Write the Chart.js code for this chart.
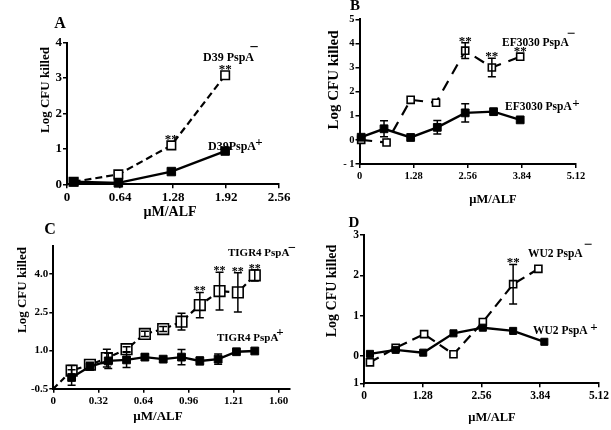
<!DOCTYPE html>
<html>
<head>
<meta charset="utf-8">
<script src="https://cdn.jsdelivr.net/npm/chart.js@4.4.0/dist/chart.umd.min.js"></script>
<style>
  body { margin: 0; background: #fff; }
  canvas { position: absolute; left: 0; top: 0; }
</style>
</head>
<body>
<canvas id="panelA" width="611" height="430"></canvas>
<canvas id="panelB" width="611" height="430"></canvas>
<canvas id="panelC" width="611" height="430"></canvas>
<canvas id="panelD" width="611" height="430"></canvas>
<script>
// ---- data (µM/ALF vs Log CFU killed) ----
// panel A: D39
const aTicksX = [0, 0.64, 1.28, 1.92, 2.56];
const aLabelsX = ['0', '0.64', '1.28', '1.92', '2.56'];
const aTicksY = [0, 1, 2, 3, 4];
const aLabelsY = ['0', '1', '2', '3', '4'];
const aNegX = [0.08, 0.62, 1.26, 1.91];
const aNegY = [0.07, 0.28, 1.1, 3.08];
const aNegStars = [2, 3];
const aPosX = [0.08, 0.62, 1.26, 1.91];
const aPosY = [0.07, 0.04, 0.36, 0.94];

// panel B: EF3030
const bTicksX = [0, 1.28, 2.56, 3.84, 5.12];
const bLabelsX = ['0', '1.28', '2.56', '3.84', '5.12'];
const bTicksY = [-1, 0, 1, 2, 3, 4, 5];
const bLabelsY = ['- 1', '0', '1', '2', '3', '4', '5'];
const bNegX = [0.04, 0.64, 1.21, 1.81, 2.5, 3.13, 3.8];
const bNegY = [0, -0.11, 1.66, 1.54, 3.7, 3.0, 3.45];
const bNegErr = [0, 0, 0, 0, 0.33, 0.38, 0];
const bNegStars = [4, 5, 6];
const bPosX = [0.04, 0.58, 1.21, 1.84, 2.5, 3.17, 3.8];
const bPosY = [0.11, 0.46, 0.1, 0.52, 1.12, 1.17, 0.83];
const bPosErr = [0, 0.33, 0, 0.28, 0.38, 0, 0];

// panel C: TIGR4
const cTicksX = [0, 0.32, 0.64, 0.96, 1.28, 1.6];
const cLabelsX = ['0', '0.32', '0.64', '0.96', '1.21', '1.60'];
const cTicksY = [-0.5, 1.0, 2.5, 4.0];
const cLabelsY = ['-0.5', '1.0', '2.5', '4.0'];
const cNegX = [0, 0.13, 0.26, 0.38, 0.52, 0.65, 0.78, 0.91, 1.04, 1.18, 1.31, 1.43];
const cNegY = [-0.5, 0.21, 0.44, 0.7, 1.05, 1.65, 1.84, 2.13, 2.78, 3.33, 3.28, 3.95];
const cNegErr = [0, 0.2, 0.1, 0.35, 0.1, 0.1, 0.1, 0.33, 0.5, 0.74, 0.77, 0.22];
const cNegStars = [8, 9, 10, 11];
const cPosX = [0.13, 0.26, 0.39, 0.52, 0.65, 0.78, 0.91, 1.04, 1.17, 1.3, 1.43];
const cPosY = [-0.06, 0.37, 0.59, 0.63, 0.74, 0.66, 0.74, 0.59, 0.66, 0.95, 0.98];
const cPosErr = [0.3, 0.1, 0.3, 0.3, 0.12, 0.05, 0.3, 0.15, 0.2, 0, 0];

// panel D: WU2
const dTicksX = [0, 1.28, 2.56, 3.84, 5.12];
const dLabelsX = ['0', '1.28', '2.56', '3.84', '5.12'];
const dTicksY = [-0.68, 0, 1, 2, 3];
const dLabelsY = ['1', '0', '1', '2', '3'];
const dNegX = [0.13, 0.69, 1.31, 1.95, 2.59, 3.25, 3.8];
const dNegY = [-0.16, 0.2, 0.54, 0.04, 0.84, 1.78, 2.16];
const dNegErr = [0, 0, 0, 0, 0, 0.49, 0];
const dNegStars = [5];
const dPosX = [0.13, 0.69, 1.29, 1.95, 2.59, 3.25, 3.93];
const dPosY = [0.05, 0.15, 0.08, 0.56, 0.7, 0.62, 0.35];

const serif = "'Liberation Serif', 'Times New Roman', serif";

// error bars + significance stars
const errorBars = {
    id: 'errorBars',
    afterDatasetsDraw(chart) {
        const ctx = chart.ctx, xs = chart.scales.x, ys = chart.scales.y;
        ctx.save();
        ctx.strokeStyle = '#000';
        ctx.fillStyle = '#000';
        ctx.lineWidth = 1.5;
        chart.data.datasets.forEach(ds => {
            const errs = ds.errors || [], stars = ds.stars || [];
            ds.data.forEach((p, i) => {
                const px = xs.getPixelForValue(p.x), py = ys.getPixelForValue(p.y);
                const r = Array.isArray(ds.pointRadius) ? ds.pointRadius[i] : ds.pointRadius;
                let top = py - r * 0.71;
                if (errs[i]) {
                    const y1 = ys.getPixelForValue(p.y + errs[i]);
                    const y2 = ys.getPixelForValue(p.y - errs[i]);
                    ctx.beginPath();
                    ctx.moveTo(px, y1); ctx.lineTo(px, y2);
                    ctx.moveTo(px - 4, y1); ctx.lineTo(px + 4, y1);
                    ctx.moveTo(px - 4, y2); ctx.lineTo(px + 4, y2);
                    ctx.stroke();
                    top = Math.min(top, y1);
                }
                if (stars.includes(i)) {
                    ctx.font = 'bold ' + (ds.starSize || 13) + 'px ' + serif;
                    ctx.textAlign = 'center';
                    ctx.textBaseline = 'alphabetic';
                    ctx.fillText('**', px, top + 2);
                }
            });
        });
        ctx.restore();
    }
};

function panelText(items) {
    return {
        id: 'panelText',
        afterDraw(chart) {
            const ctx = chart.ctx;
            items.forEach(it => {
                ctx.save();
                ctx.font = 'bold ' + it.s + 'px ' + serif;
                ctx.fillStyle = '#000';
                ctx.textAlign = it.left ? 'left' : 'center';
                ctx.textBaseline = 'middle';
                ctx.translate(it.x, it.y);
                if (it.rot) ctx.rotate(-Math.PI / 2);
                ctx.fillText(it.t, 0, 0);
                ctx.restore();
            });
        }
    };
}

function pts(xs, ys) {
    return xs.map((x, i) => ({ x: x, y: ys[i] }));
}

function axis(min, max, ticks, labels, size, horizontal) {
    return {
        type: 'linear',
        min: min,
        max: max,
        afterBuildTicks: s => { s.ticks = ticks.map(v => ({ value: v })); },
        afterFit: s => { if (horizontal) s.height = 22; else s.width = 30; },
        ticks: {
            callback: (v, i) => labels[i],
            color: '#000',
            autoSkip: false,
            maxRotation: 0,
            padding: horizontal ? 2 : 1,
            font: { family: serif, weight: 'bold', size: size }
        },
        grid: { drawOnChartArea: false, drawTicks: true, tickLength: 4, color: '#000', lineWidth: 1.5 },
        border: { color: '#000', width: 2 }
    };
}

function panel(id, box, xAxis, yAxis, posSet, negSet, texts) {
    return new Chart(document.getElementById(id).getContext('2d'), {
        type: 'scatter',
        data: {
            datasets: [
                Object.assign({
                    showLine: true, borderColor: '#000', borderWidth: 2.4, tension: 0,
                    pointStyle: 'rect', pointBackgroundColor: '#000', pointBorderColor: '#000',
                    pointBorderWidth: 1, clip: false
                }, posSet),
                Object.assign({
                    showLine: true, borderColor: '#000', borderWidth: 2.2, tension: 0,
                    pointStyle: 'rect', pointBackgroundColor: '#fff', pointBorderColor: '#000',
                    pointBorderWidth: 1.6, clip: false
                }, negSet)
            ]
        },
        options: {
            responsive: false,
            animation: false,
            devicePixelRatio: 1,
            layout: {
                padding: { left: box.L - 30, right: 611 - box.R, top: box.T, bottom: 430 - box.B - 22 }
            },
            scales: { x: xAxis, y: yAxis },
            plugins: { legend: { display: false }, tooltip: { enabled: false } }
        },
        plugins: [errorBars, panelText(texts)]
    });
}

// A
panel('panelA', { L: 67, R: 279, T: 42.7, B: 184.3 },
    axis(0, 2.56, aTicksX, aLabelsX, 13, true),
    axis(0, 4, aTicksY, aLabelsY, 13, false),
    { data: pts(aPosX, aPosY), pointRadius: 6 },
    { data: pts(aNegX, aNegY), pointRadius: 6, borderDash: [7, 4], stars: aNegStars },
    [
        { t: 'A', x: 60, y: 24, s: 16 },
        { t: 'Log CFU killed', x: 46, y: 90, s: 13, rot: true },
        { t: 'µM/ALF', x: 170, y: 212, s: 14 },
        { t: 'D39 PspA', x: 203, y: 58, s: 12, left: true },
        { t: '−', x: 254, y: 48, s: 16 },
        { t: 'D39PspA', x: 208, y: 147, s: 12, left: true },
        { t: '+', x: 259, y: 143, s: 13 }
    ]);

// B
panel('panelB', { L: 359.5, R: 576, T: 19.3, B: 164 },
    axis(0, 5.12, bTicksX, bLabelsX, 10.5, true),
    axis(-1, 5, bTicksY, bLabelsY, 10.5, false),
    { data: pts(bPosX, bPosY), pointRadius: 5.5, errors: bPosErr },
    { data: pts(bNegX, bNegY), pointRadius: 5, borderDash: [11, 8], errors: bNegErr, stars: bNegStars },
    [
        { t: 'B', x: 355, y: 6, s: 15 },
        { t: 'Log CFU killed', x: 334, y: 80, s: 15, rot: true },
        { t: 'µM/ALF', x: 493, y: 200, s: 12.5 },
        { t: 'EF3030 PspA', x: 502, y: 43, s: 11.5, left: true },
        { t: '−', x: 571, y: 34, s: 15 },
        { t: 'EF3030 PspA', x: 505, y: 107, s: 11.5, left: true },
        { t: '+', x: 576, y: 104, s: 13 }
    ]);

// C
panel('panelC', { L: 53.3, R: 290, T: 246, B: 388.7 },
    axis(0, 1.68, cTicksX, cLabelsX, 11, true),
    axis(-0.5, 5.1, cTicksY, cLabelsY, 11, false),
    { data: pts(cPosX, cPosY), pointRadius: 5.5, errors: cPosErr },
    { data: pts(cNegX, cNegY), pointRadius: cNegX.map((x, i) => i === 0 ? 0 : 7.5), borderDash: [6, 4],
      errors: cNegErr, stars: cNegStars, starSize: 12 },
    [
        { t: 'C', x: 50, y: 230, s: 16 },
        { t: 'Log CFU killed', x: 23, y: 290, s: 13, rot: true },
        { t: 'µM/ALF', x: 158, y: 417, s: 13 },
        { t: 'TIGR4 PspA', x: 228, y: 253, s: 11, left: true },
        { t: '−', x: 292, y: 248, s: 14 },
        { t: 'TIGR4 PspA', x: 217, y: 338, s: 11, left: true },
        { t: '+', x: 280, y: 333, s: 13 }
    ]);

// D
panel('panelD', { L: 364, R: 603, T: 235, B: 383.3 },
    axis(0, 5.12, dTicksX, dLabelsX, 11.5, true),
    axis(-0.68, 3, dTicksY, dLabelsY, 11.5, false),
    { data: pts(dPosX, dPosY), pointRadius: 5 },
    { data: pts(dNegX, dNegY), pointRadius: 5, borderDash: [10, 6], errors: dNegErr, stars: dNegStars },
    [
        { t: 'D', x: 354, y: 223, s: 15 },
        { t: 'Log CFU killed', x: 332, y: 291, s: 14, rot: true },
        { t: 'µM/ALF', x: 492, y: 418, s: 12.5 },
        { t: 'WU2 PspA', x: 528, y: 254, s: 11.5, left: true },
        { t: '−', x: 588, y: 245, s: 15 },
        { t: 'WU2 PspA', x: 533, y: 331, s: 11.5, left: true },
        { t: '+', x: 594, y: 328, s: 13 }
    ]);
</script>
</body>
</html>
